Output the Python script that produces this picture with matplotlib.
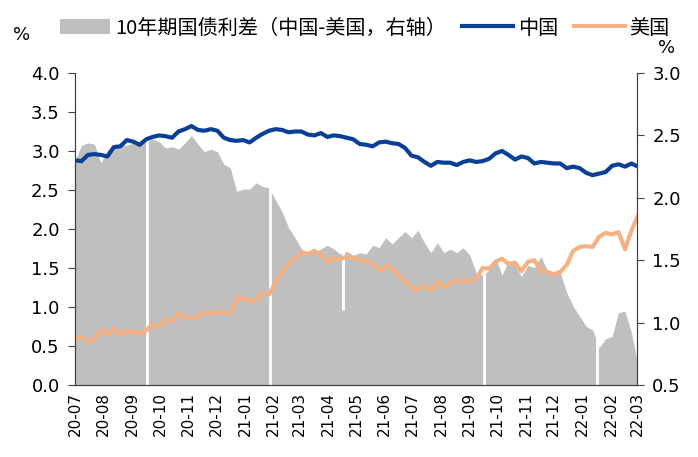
import numpy as np
import pandas as pd
import matplotlib
matplotlib.use("Agg")
import matplotlib.pyplot as plt
import matplotlib.dates as mdates
from matplotlib.patches import Patch
from matplotlib.lines import Line2D

plt.rcParams['font.family'] = ['DejaVu Sans']

# weekly readings, starting 2020-07-15
start = "2020-07-15"
cn_10y = [2.88, 2.87, 2.95, 2.96, 2.95, 2.93, 3.05, 3.06, 3.14, 3.12,
          3.08, 3.15, 3.18, 3.20, 3.19, 3.17, 3.25, 3.28, 3.32, 3.27,
          3.26, 3.28, 3.26, 3.17, 3.14, 3.13, 3.14, 3.11, 3.17, 3.22,
          3.26, 3.28, 3.27, 3.24, 3.25, 3.25, 3.21, 3.20, 3.23, 3.18,
          3.20, 3.19, 3.17, 3.15, 3.09, 3.08, 3.06, 3.11, 3.12, 3.10,
          3.09, 3.04, 2.94, 2.92, 2.86, 2.81, 2.86, 2.85, 2.85, 2.82,
          2.86, 2.88, 2.86, 2.87, 2.90, 2.97, 3.00, 2.95, 2.89, 2.93,
          2.91, 2.84, 2.86, 2.85, 2.84, 2.84, 2.78, 2.80, 2.78, 2.72,
          2.69, 2.71, 2.73, 2.81, 2.83, 2.80, 2.84, 2.80]
us_10y = [0.60, 0.62, 0.55, 0.60, 0.70, 0.65, 0.72, 0.64, 0.70, 0.67,
          0.66, 0.70, 0.78, 0.74, 0.84, 0.82, 0.92, 0.86, 0.85, 0.88,
          0.93, 0.91, 0.94, 0.93, 0.92, 1.12, 1.11, 1.07, 1.10, 1.18,
          1.16, 1.32, 1.45, 1.56, 1.62, 1.70, 1.68, 1.72, 1.67, 1.57,
          1.63, 1.61, 1.65, 1.63, 1.60, 1.59, 1.55, 1.47, 1.52, 1.50,
          1.40, 1.33, 1.25, 1.22, 1.27, 1.21, 1.32, 1.25, 1.30, 1.34,
          1.31, 1.35, 1.36, 1.50, 1.49, 1.58, 1.62, 1.55, 1.57, 1.46,
          1.58, 1.60, 1.46, 1.45, 1.42, 1.45, 1.54, 1.72, 1.77, 1.78,
          1.77, 1.90, 1.95, 1.93, 1.96, 1.74, 1.98, 2.17]
spread = [2.30, 2.42, 2.44, 2.43, 2.28, 2.38, 2.40, 2.42, 2.42, 2.44,
          2.44, 2.45, 2.47, 2.45, 2.40, 2.41, 2.39, 2.44, 2.50, 2.43,
          2.37, 2.39, 2.37, 2.27, 2.24, 2.05, 2.07, 2.07, 2.12, 2.09,
          2.08, 1.98, 1.89, 1.76, 1.68, 1.59, 1.56, 1.56, 1.59, 1.62,
          1.59, 1.55, 1.57, 1.54, 1.56, 1.55, 1.62, 1.60, 1.68, 1.63,
          1.68, 1.73, 1.68, 1.74, 1.64, 1.56, 1.64, 1.56, 1.59, 1.56,
          1.60, 1.54, 1.40, 1.38, 1.42, 1.52, 1.38, 1.50, 1.46, 1.37,
          1.46, 1.44, 1.53, 1.42, 1.40, 1.40, 1.24, 1.13, 1.05, 0.97,
          0.94, 0.80, 0.87, 0.89, 1.08, 1.09, 0.92, 0.66]
# days with no China quote (spread dips)
holidays = ["2020-10-01", "2021-02-11", "2021-05-01", "2021-10-01", "2022-01-31"]
holiday_low = [0.5, 0.5, 1.1, 0.5, 0.5]

dates = pd.date_range(start, periods=len(cn_10y), freq="7D")
hol = pd.to_datetime(holidays)

fig = plt.figure(figsize=(6.98, 4.57), dpi=100)
ax = fig.add_axes([75 / 698, 1 - 385 / 457, 562 / 698, 312 / 457])
ax2 = ax.twinx()
ax.set_zorder(ax2.get_zorder() + 1)
ax.patch.set_visible(False)

ax2.fill_between(dates, 0.5, spread, color="#bfbfbf", lw=0, zorder=1)
ax2.vlines(hol, holiday_low, 3.0, color="white", lw=2, zorder=2)

ax.plot(dates, cn_10y, color="#0a3f96", lw=3)
ax.plot(dates, us_10y, color="#f4b183", lw=3)

ax.set_ylim(0, 4)
ax.set_yticks(np.arange(0, 4.01, 0.5))
ax.yaxis.set_major_formatter(matplotlib.ticker.FormatStrFormatter("%.1f"))
ax2.set_ylim(0.5, 3.0)
ax2.set_yticks(np.arange(0.5, 3.01, 0.5))
ax2.yaxis.set_major_formatter(matplotlib.ticker.FormatStrFormatter("%.1f"))

ax.set_xlim(pd.Timestamp("2020-07-15"), pd.Timestamp("2022-03-15"))
ax.set_xticks(pd.date_range("2020-07-01", "2022-03-01", freq="MS") + pd.Timedelta(days=14))
ax.xaxis.set_major_formatter(mdates.DateFormatter("%y-%m"))
ax.tick_params(axis="x", length=0, labelsize=11, rotation=90, pad=5)
ax.tick_params(axis="y", length=5, labelsize=13, pad=6, color="#404040")
ax2.tick_params(axis="y", length=5, labelsize=13, pad=6, color="#404040")

for a in (ax, ax2):
    a.spines["top"].set_visible(False)
    for s in ("left", "right", "bottom"):
        a.spines[s].set_color("#404040")

fig.text(22 / 698, 1 - 35 / 457, "%", fontsize=13, ha="center", va="center")
fig.text(667 / 698, 1 - 48 / 457, "%", fontsize=13, ha="center", va="center")

handles = [Patch(facecolor="#bfbfbf", edgecolor="none"),
           Line2D([], [], color="#0a3f96", lw=3),
           Line2D([], [], color="#f4b183", lw=3)]
labels = ["10年期国债利差（中国-美国，右轴）", "中国", "美国"]
fig.legend(handles, labels, loc="center left", bbox_to_anchor=(60 / 698, 1 - 28 / 457),
           ncol=3, frameon=False, borderpad=0, borderaxespad=0,
           handlelength=2.5, handleheight=0.8, handletextpad=0.25, columnspacing=0.8,
           prop={"family": ["Noto Sans CJK SC", "DejaVu Sans"], "size": 14.5})

fig.savefig("out.png", dpi=100)
